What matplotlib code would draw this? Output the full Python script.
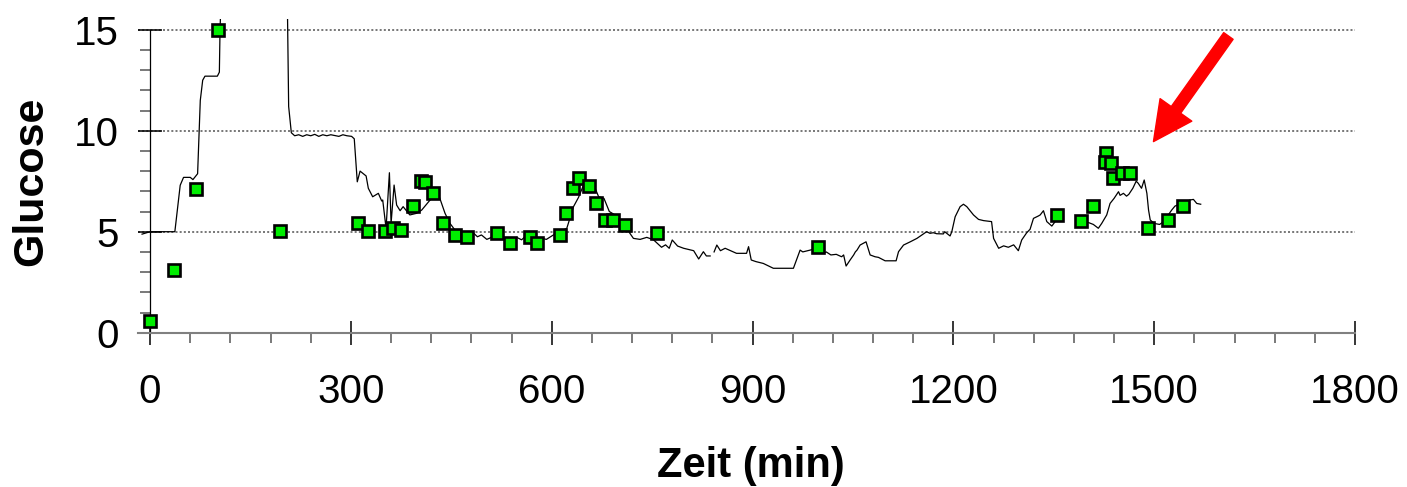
import matplotlib.pyplot as plt
import numpy as np
from matplotlib.ticker import MultipleLocator

plt.rcParams['font.family'] = ['Liberation Sans', 'DejaVu Sans']

# Sensorkurve (Zeit in min, Glucose), NaN = Luecke in der Kurve
kurve_t = [-12, 0, 37, 45, 50, 60, 64, 71, 75, 78.6, 82, 100.5, 103.5, 104.5, 106, np.nan,
           205, 207, 211, 216, 222, 228, 234, 240, 246, 252, 258, 264, 270, 276, 282, 288, 294, 301, 305,
           309.5, 313.7, 322.7, 326, 332.5, 341, 346, 347.5, 352.5, 357.5, 360, 364.5, 368.3, 373.5, 378,
           388, 398, 405.7, 417, 423, 432, 440.6, 448, 455.5, 465.5, 482, 489, 495, 503, 510, 522, 532.8,
           547.7, 555, 560, 585, 592, 602.5, 622.5, 632.5, 640, 646.5, 651, 662, 670, 678, 686, 697, 704.5,
           711.5, 722, 732, 742, 752, 764, 770, 775.5, 780, 788, 797, 812, 819.5, 826.5, 831, 836.6, np.nan,
           842.5, 846.6, 852, 859, 876, 891, 894, 898, 905, 916, 931, 961, 965.5, 971, 975, 986, 997, 1006,
           1010, 1017, 1025, 1033, 1036, 1039.7, 1045.7, 1051, 1053.5, 1056, 1060.6, 1069.5, 1075.6, 1083,
           1088, 1098, 1114.4, 1118, 1125.5, 1135.5, 1145.5, 1155, 1160, 1165, 1170, 1175, 1185, 1187, 1195,
           1197.6, 1202.6, 1210, 1215, 1220, 1230, 1237.5, 1245, 1257, 1260, 1267.6, 1275, 1282, 1290, 1297,
           1302, 1309.5, 1314.5, 1319.6, 1327, 1329.6, 1334.5, 1339.5, 1347, 1352, 1358, np.nan,
           1394, 1402, 1409, 1416.5, 1421.5, 1429, 1434, 1440, 1446.6, 1449, 1454, 1458.6, 1462, 1468, 1473,
           1476, 1478, 1481, 1485, 1489, 1491.5, 1494, 1500, 1508, 1514, 1526, 1531, 1553.6, 1558.5, 1563.5,
           1569.4]
kurve_g = [4.88, 5.0, 5.0, 7.3, 7.69, 7.69, 7.58, 7.87, 11.5, 12.5, 12.7, 12.7, 12.9, 15.0, 16.5, np.nan,
           16.5, 11.2, 9.9, 9.75, 9.8, 9.72, 9.8, 9.75, 9.82, 9.72, 9.8, 9.75, 9.8, 9.76, 9.72, 9.8, 9.75, 9.72, 9.6,
           7.47, 8.0, 7.76, 7.15, 6.73, 6.9, 6.52, 6.57, 5.17, 7.92, 5.41, 7.31, 6.32, 6.04, 6.24,
           5.83, 5.91, 6.07, 6.52, 6.73, 6.73, 5.91, 5.41, 5.08, 4.92, 4.97, 4.75, 4.84, 4.62, 4.72, 4.8, 4.59,
           4.72, 4.6, 4.75, 4.67, 4.62, 4.84, 5.17, 6.24, 6.7, 7.23, 7.42, 7.38, 6.73, 6.65, 6.0, 5.78, 5.4,
           5.17, 4.67, 4.62, 4.72, 4.6, 4.23, 4.35, 4.18, 4.59, 4.29, 4.18, 4.06, 3.65, 4.01, 3.8, 3.8, np.nan,
           4.0, 4.34, 4.06, 4.18, 3.93, 3.93, 4.26, 3.6, 3.52, 3.43, 3.19, 3.19, 3.6, 4.09, 4.0, 4.09, 4.2, 3.93,
           4.0, 3.85, 3.88, 3.76, 3.85, 3.3, 3.6, 3.85, 4.0, 4.09, 4.34, 4.5, 3.85, 3.76,
           3.73, 3.56, 3.56, 4.01, 4.34, 4.5, 4.67, 4.89, 5.0, 4.92, 4.95, 4.9, 4.89, 5.0, 4.79,
           5.0, 5.74, 6.24, 6.36, 6.24, 5.83, 5.61, 5.55, 5.5, 4.67, 4.18, 4.3, 4.23, 4.35, 4.06,
           4.59, 4.95, 5.12, 5.66, 5.78, 5.83, 6.04, 5.5, 5.28, 5.5, 5.7, np.nan,
           5.5, 5.45, 5.36, 5.17, 5.41, 5.83, 6.4, 6.65, 6.98, 6.8, 6.9, 6.76, 6.85, 7.15, 7.5,
           7.4, 7.3, 7.15, 7.56, 6.9, 6.07, 5.58, 5.41, 5.36, 5.5, 6.07, 6.27, 6.57, 6.6, 6.4,
           6.36]

# Blutzucker-Messungen (Quadrate)
mess_t = [0, 35, 68, 101, 193.5, 311, 326, 351, 362.5, 374.5, 392.4, 405, 410, 422, 437, 455.5, 473,
          518, 537, 567, 578, 612.5, 621.5, 632, 640, 655, 666, 679.7, 691, 709.5, 756.7, 997,
          1354, 1390.8, 1409, 1428, 1426.7, 1435.5, 1439, 1451.5, 1464, 1490, 1520, 1542.6]
mess_g = [0.58, 3.1, 7.1, 15.0, 5.05, 5.45, 5.05, 5.05, 5.2, 5.08, 6.29, 7.5, 7.45, 6.9, 5.45, 4.84, 4.72,
          4.95, 4.46, 4.72, 4.46, 4.84, 5.94, 7.15, 7.64, 7.28, 6.44, 5.58, 5.58, 5.33, 4.95, 4.23,
          5.83, 5.55, 6.29, 8.88, 8.47, 8.39, 7.64, 7.89, 7.89, 5.17, 5.58, 6.29]

xticks = [0, 300, 600, 900, 1200, 1500, 1800]
yticks = [0, 5, 10, 15]

fig = plt.figure(figsize=(14.07, 4.87), dpi=100)
ax = fig.add_axes([0.0981, 0.3168, 0.8650, 0.6442])

ax.plot(kurve_t, kurve_g, color='black', lw=0.9, zorder=3)
ax.plot(mess_t, mess_g, 's', ms=8.0, mfc='#00ee00', mec='black', mew=1.9, zorder=4)

# Pfeil
ax.annotate('', xy=(1498.8, 9.46), xytext=(1610.8, 14.69),
            arrowprops=dict(arrowstyle='simple,head_length=28,head_width=28,tail_width=8.3',
                            color='red', shrinkA=0, shrinkB=0, mutation_scale=1), zorder=5)

ax.set_xlim(-18, 1800)
ax.set_ylim(0, 15.53)
ax.set_xticks(xticks)
ax.set_yticks(yticks)
ax.xaxis.set_minor_locator(MultipleLocator(60))
ax.yaxis.set_minor_locator(MultipleLocator(1))

ax.grid(axis='y', which='major', color='#606060', lw=1.2, linestyle=(0, (1.2, 1.3)))
ax.set_axisbelow(True)

ax.spines['top'].set_visible(False)
ax.spines['right'].set_visible(False)
ax.spines['left'].set_position(('data', 0))
ax.spines['left'].set_bounds(0, 15)
ax.spines['left'].set_linewidth(0.9)
ax.spines['bottom'].set_color('#808080')
ax.spines['bottom'].set_linewidth(1.5)

ax.tick_params(axis='both', which='major', direction='inout', length=17.3, width=1.1,
               color='black', labelsize=29)
ax.tick_params(axis='both', which='minor', direction='out', length=7.2, width=1.1, color='#555555')
ax.tick_params(axis='x', which='major', pad=20)
ax.tick_params(axis='y', which='major', pad=14)

fig.text(751 / 1407, 10 / 487, 'Zeit (min)', ha='center', va='baseline',
         fontsize=30, fontweight='bold')
fig.text(31 / 1407, (487 - 181.7) / 487, 'Glucose', ha='center', va='center',
         rotation=90, fontsize=31, fontweight='bold')

plt.savefig('out.png', dpi=100)
